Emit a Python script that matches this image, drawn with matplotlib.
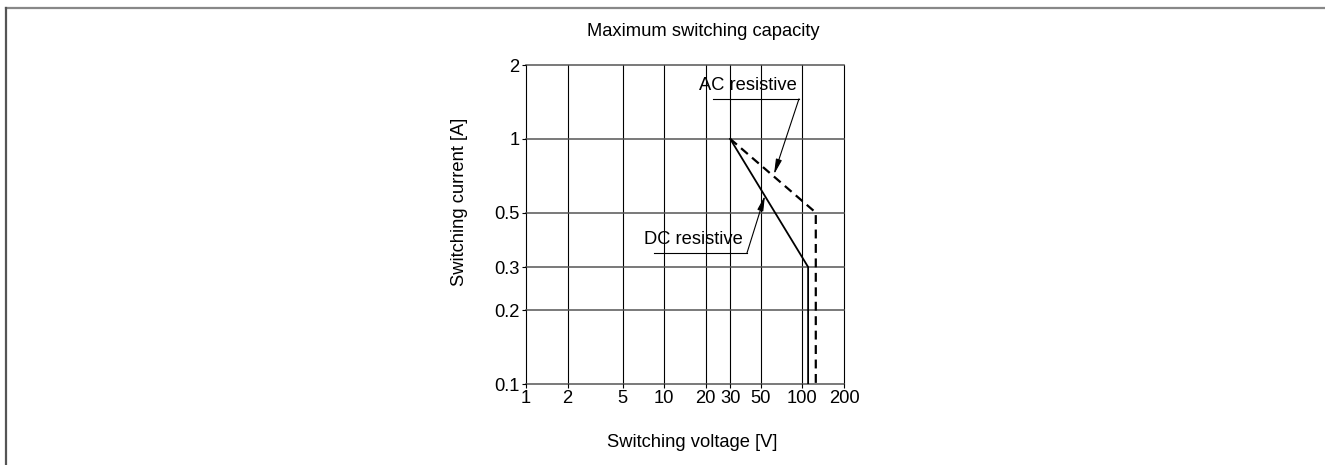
import matplotlib
matplotlib.use("Agg")
import matplotlib.pyplot as plt
from matplotlib.lines import Line2D

plt.rcParams['font.family'] = ['Liberation Sans', 'DejaVu Sans']

# Data
x_ticks = [1, 2, 5, 10, 20, 30, 50, 100, 200]
y_ticks = [0.1, 0.2, 0.3, 0.5, 1, 2]
dc_voltage = [30, 110, 110]
dc_current = [1.0, 0.3, 0.1]
ac_voltage = [30, 125, 125]
ac_current = [1.0, 0.5, 0.1]

FS = 13.2
fig = plt.figure(figsize=(13.25, 4.65), dpi=100)
ax = fig.add_axes([526/1325, 1-384/465, 318/1325, 319/465])
ax.set_xscale('log')
ax.set_yscale('log')
ax.set_xlim(1, 200)
ax.set_ylim(0.1, 2)

for v in x_ticks:
    ax.axvline(v, color='black', lw=0.8, zorder=1, clip_on=False)
for v in y_ticks:
    ax.axhline(v, color='#555555', lw=1.1, zorder=1, clip_on=False)
for s in ax.spines.values():
    s.set_visible(False)

ax.set_xticks(x_ticks)
ax.set_xticklabels([str(v) for v in x_ticks])
ax.set_yticks(y_ticks)
ax.set_yticklabels(['0.1', '0.2', '0.3', '0.5', '1', '2'])
ax.minorticks_off()
ax.tick_params(axis='both', length=3, width=0.8, labelsize=FS, colors='black', pad=1.5)

ax.plot(dc_voltage, dc_current, color='black', lw=1.3, zorder=3)
ax.plot(ac_voltage, ac_current, color='black', lw=1.6, ls=(0, (4, 2.5)), zorder=3)

# Annotations
arrow = dict(arrowstyle='-|>,head_length=0.9,head_width=0.18', color='black', lw=0.8,
             shrinkA=0, shrinkB=0)
ax.text(40.4, 1.647, 'AC resistive', ha='center', va='center', fontsize=FS, zorder=4)
ax.plot([22.5, 94.5], [1.456, 1.456], color='black', lw=0.8)
ax.annotate('', xy=(62.3, 0.716), xytext=(94.5, 1.456), arrowprops=arrow)
ax.text(16.2, 0.388, 'DC resistive', ha='center', va='center', fontsize=FS, zorder=4)
ax.plot([8.44, 39.7], [0.342, 0.342], color='black', lw=0.8)
ax.annotate('', xy=(53.6, 0.587), xytext=(39.7, 0.342), arrowprops=arrow)

fig.text(703/1325, 1-32/465, 'Maximum switching capacity', ha='center', va='center', fontsize=FS)
fig.text(692/1325, 1-442/465, 'Switching voltage [V]', ha='center', va='center', fontsize=FS)
fig.text(460/1325, 1-202/465, 'Switching current [A]', ha='center', va='center', fontsize=FS, rotation=90)

# Figure border
fig.add_artist(Line2D([6/1325, 1], [1-8.5/465, 1-8.5/465], color='#888888', lw=1.6, transform=fig.transFigure))
fig.add_artist(Line2D([6/1325, 6/1325], [0, 1-8.5/465], color='#555555', lw=1.6, transform=fig.transFigure))

fig.savefig('out.png', dpi=100)
